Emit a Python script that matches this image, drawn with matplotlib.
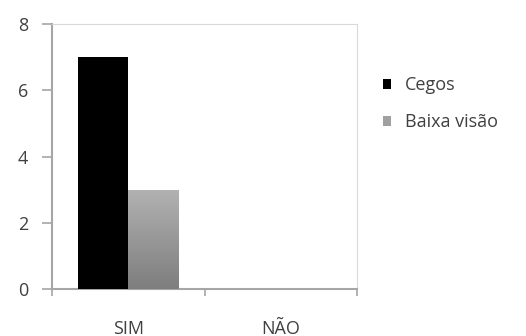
import matplotlib.pyplot as plt
import numpy as np
from matplotlib.colors import LinearSegmentedColormap

categories = ['SIM', 'NÃO']
cegos = [7, 0]
baixa_visao = [3, 0]
series_names = ['Cegos', 'Baixa visão']
y_ticks = [0, 2, 4, 6, 8]

plt.rcParams['font.family'] = ['Open Sans', 'DejaVu Sans']
text_color = '#404040'
axis_color = '#a6a6a6'

fig = plt.figure(figsize=(5.26, 3.36), dpi=100)
ax = fig.add_axes([0.099, 0.140, 0.580, 0.788])

x = np.arange(len(categories))
width = 0.33
bars1 = ax.bar(x - width / 2, cegos, width, color='black', label=series_names[0], zorder=3)
bars2 = ax.bar(x + width / 2, baixa_visao, width, color='#a0a0a0', label=series_names[1], zorder=3)

# vertical grey gradient inside the second series' bars
grey_cmap = LinearSegmentedColormap.from_list('grey_fade', ['#7e7e7e', '#b2b2b2'])
grad = np.linspace(0, 1, 256).reshape(-1, 1)
for b in bars2:
    if b.get_height() <= 0:
        continue
    x0, w, h = b.get_x(), b.get_width(), b.get_height()
    im = ax.imshow(grad, cmap=grey_cmap, origin='lower', aspect='auto',
                   extent=[x0, x0 + w, 0, h], zorder=4)
    im.set_clip_path(b)

ax.set_xlim(-0.5, 1.5)
ax.set_ylim(0, 8)
ax.set_yticks(y_ticks)
ax.set_xticks([-0.5, 0.5, 1.5])
ax.set_xticklabels([])
ax.set_xticks(x, minor=True)
ax.set_xticklabels(categories, minor=True)
ax.tick_params(axis='x', which='minor', length=0, pad=22, labelsize=13, labelcolor=text_color)
ax.tick_params(axis='x', which='major', length=5, color=axis_color, width=1.2)
ax.tick_params(axis='y', length=7, color=axis_color, width=1.2, pad=10,
               labelsize=13, labelcolor=text_color)

for side in ['left', 'bottom']:
    ax.spines[side].set_color(axis_color)
    ax.spines[side].set_linewidth(1.5)
for side in ['top', 'right']:
    ax.spines[side].set_color('#d9d9d9')
    ax.spines[side].set_linewidth(0.8)

leg = fig.legend(handles=[bars1, bars2], labels=series_names, loc='upper left',
                 bbox_to_anchor=(0.728, 0.773), frameon=False, fontsize=13,
                 borderpad=0, borderaxespad=0, handlelength=0.45, handleheight=0.45,
                 handletextpad=0.75, labelspacing=1.05, labelcolor=text_color)
leg.legend_handles[1].set_facecolor('#a0a0a0')

fig.savefig('out.png', dpi=100)
